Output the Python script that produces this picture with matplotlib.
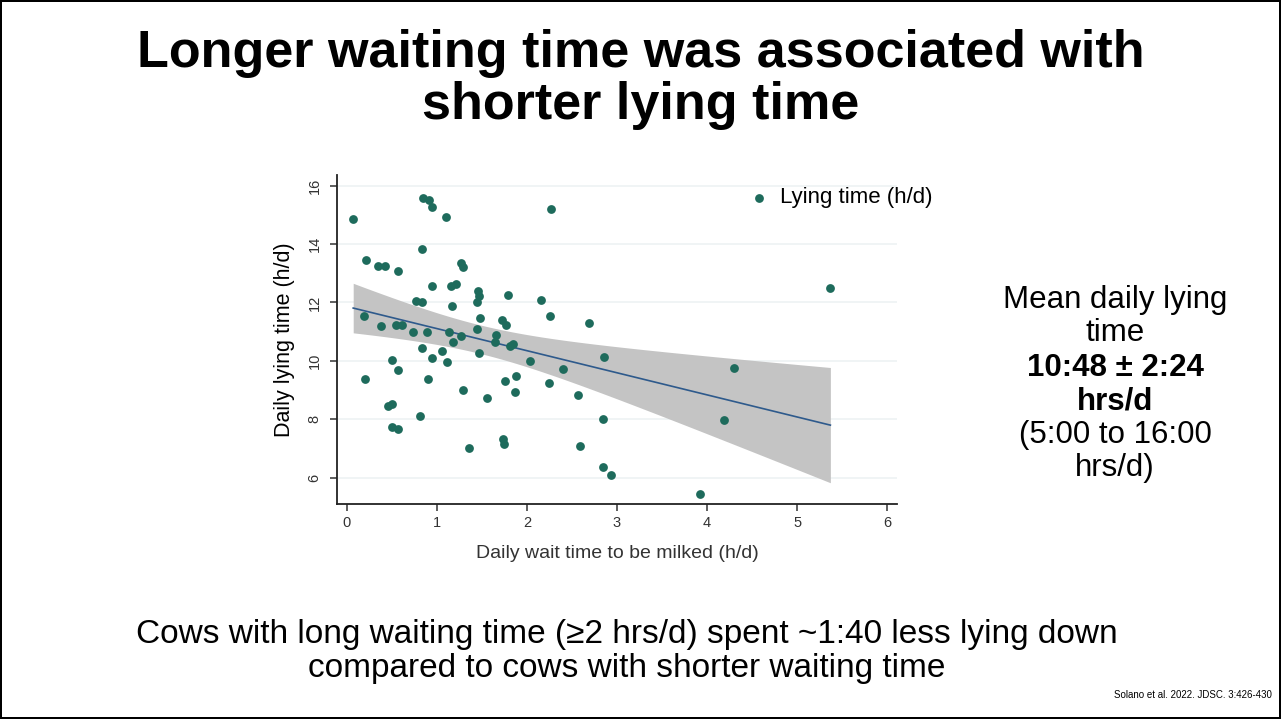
import numpy as np
import matplotlib.pyplot as plt

plt.rcParams['font.family'] = ['Liberation Sans', 'DejaVu Sans']

# wait time to be milked (h/d) and daily lying time (h/d), one entry per cow
wait_h = [0.07, 0.85, 0.91, 0.95, 1.10, 2.27, 0.83, 0.21, 0.35, 0.42,
          0.57, 1.27, 1.29, 0.95, 1.16, 1.21, 0.77, 0.83, 1.17, 1.46,
          1.47, 1.44, 1.79, 2.16, 0.19, 0.38, 0.54, 0.61, 0.73, 0.89,
          1.13, 1.27, 1.18, 1.44, 1.48, 1.72, 1.77, 2.26, 2.69, 1.66,
          1.64, 1.81, 1.84, 1.47, 0.83, 0.95, 1.06, 1.11, 0.50, 0.57,
          0.20, 0.90, 1.29, 1.56, 1.76, 1.88, 1.87, 2.03, 2.25, 2.40,
          2.57, 2.86, 0.46, 0.50, 0.81, 0.50, 0.57, 1.36, 1.73, 1.75,
          2.59, 2.84, 2.84, 2.93, 4.30, 4.19, 3.92, 5.37]
lying_h = [14.84, 15.56, 15.50, 15.25, 14.93, 15.19, 13.84, 13.46, 13.24, 13.23,
           13.09, 13.35, 13.22, 12.55, 12.56, 12.63, 12.06, 12.01, 11.88, 12.38,
           12.22, 12.01, 12.24, 12.07, 11.53, 11.20, 11.23, 11.21, 11.00, 11.00,
           11.00, 10.84, 10.64, 11.10, 11.48, 11.40, 11.21, 11.55, 11.29, 10.87,
           10.64, 10.52, 10.58, 10.28, 10.43, 10.11, 10.32, 9.95, 10.04, 9.69,
           9.38, 9.38, 9.00, 8.73, 9.32, 9.47, 8.95, 9.98, 9.25, 9.71,
           8.83, 10.12, 8.44, 8.53, 8.12, 7.74, 7.68, 7.00, 7.32, 7.17,
           7.09, 8.00, 6.37, 6.08, 9.74, 7.97, 5.43, 12.50]

x_ticks = [0, 1, 2, 3, 4, 5, 6]
y_ticks = [6, 8, 10, 12, 14, 16]

x = np.array(wait_h)
y = np.array(lying_h)

# linear fit with 95% confidence band of the mean
n = len(x)
b1, b0 = np.polyfit(x, y, 1)
resid = y - (b0 + b1 * x)
s = np.sqrt(np.sum(resid ** 2) / (n - 2))
sxx = np.sum((x - x.mean()) ** 2)
xf = np.linspace(x.min(), x.max(), 100)
yf = b0 + b1 * xf
se = s * np.sqrt(1 / n + (xf - x.mean()) ** 2 / sxx)
ci = 1.99 * se

W, H = 1281, 719
fig = plt.figure(figsize=(W / 100, H / 100), dpi=100)
fig.patch.set_facecolor('white')
fig.patch.set_edgecolor('black')
fig.patch.set_linewidth(1.5)

# title
fig.text(0.5, 1 - 53 / H, 'Longer waiting time was associated with', ha='center', va='center',
         fontsize=37.5, fontweight='bold')
fig.text(0.5, 1 - 105 / H, 'shorter lying time', ha='center', va='center',
         fontsize=37.5, fontweight='bold')

ax = fig.add_axes([337 / W, 1 - 504 / H, 560 / W, (504 - 175) / H])
ax.fill_between(xf, yf - ci, yf + ci, color='#c4c4c4', lw=0, zorder=1)
ax.plot(xf, yf, color='#2e5a8c', lw=1.2, zorder=2)
ax.scatter(x, y, s=40, color='#1e6b5c', marker='o', lw=0, zorder=3, label='Lying time (h/d)')

ax.set_xlim(-0.11, 6.11)
ax.set_ylim(5.1, 16.36)
ax.set_xticks(x_ticks)
ax.set_yticks(y_ticks)
ax.grid(axis='y', color='#eef2f4', lw=1.2, zorder=0)
ax.set_axisbelow(True)
for side in ['top', 'right']:
    ax.spines[side].set_visible(False)
for side in ['left', 'bottom']:
    ax.spines[side].set_color('#222222')
    ax.spines[side].set_linewidth(1.3)
ax.tick_params(colors='#333333', labelsize=10.5, length=5, width=1.1)
ax.tick_params(axis='y', pad=6)
plt.setp(ax.get_yticklabels(), rotation=90, va='center')
ax.set_xlabel('Daily wait time to be milked (h/d)', fontsize=14, color='#333333', labelpad=11)
ax.set_ylabel('Daily lying time (h/d)', fontsize=15.5, color='black', labelpad=9)

# legend sits partly outside the plot area, to the right
leg = ax.legend(loc='center left', bbox_to_anchor=(748 / W, 1 - 198 / H), bbox_transform=fig.transFigure,
                frameon=False, fontsize=16, handlelength=1.0, handletextpad=0.45,
                borderpad=0, borderaxespad=0)

# side note
rx = 1115 / W
side = [('Mean daily lying', 300, 'normal'), ('time', 333, 'normal'),
        ('10:48 \u00b1 2:24', 368, 'bold'), ('hrs/d', 401, 'bold'),
        ('(5:00 to 16:00', 435, 'normal'), ('hrs/d)', 468, 'normal')]
for txt, py, wt in side:
    fig.text(rx, 1 - py / H, txt, ha='center', va='center', fontsize=22.5, fontweight=wt)

# bottom message
fig.text(627 / W, 1 - 634 / H, 'Cows with long waiting time (\u22652 hrs/d) spent ~1:40 less lying down',
         ha='center', va='center', fontsize=24)
fig.text(627 / W, 1 - 669 / H, 'compared to cows with shorter waiting time',
         ha='center', va='center', fontsize=24)
fig.text(1272 / W, 1 - 695 / H, 'Solano et al. 2022. JDSC. 3:426-430', ha='right', va='center', fontsize=7)

fig.savefig('out.png', dpi=100, edgecolor=fig.get_edgecolor())
